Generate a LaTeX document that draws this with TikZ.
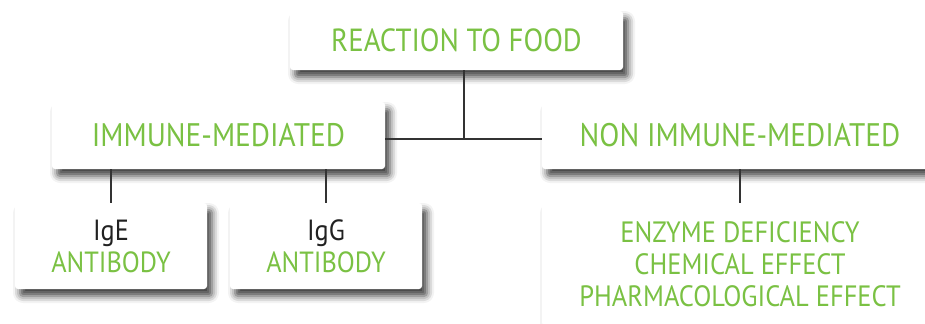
\documentclass[tikz,border=0pt]{standalone}
\usepackage{fontspec}
\setmainfont{PT Sans}[FakeStretch=0.9]
\usetikzlibrary{shadows.blur}
\definecolor{leaf}{RGB}{122,193,67}
\definecolor{wire}{gray}{0.2}
\definecolor{ink}{gray}{0.13}

\begin{document}
\begin{tikzpicture}[x=0.5pt,y=-0.5pt,
  box/.style={fill=white, rounded corners=1.5pt, inner sep=0pt, align=center, text=leaf,
    blur shadow={shadow xshift=2.5pt, shadow yshift=-3.5pt, shadow blur radius=3.5pt, shadow opacity=75}},
  link/.style={draw=wire, line width=0.6pt}]
\useasboundingbox (0,0) rectangle (925,323);
\clip (0,0) rectangle (925,323);
% top level
\node[box, minimum width=166.5pt, minimum height=29.5pt, font=\fontsize{16}{18}\selectfont] (food) at (456.5,40.5) {REACTION TO FOOD};
% second level
\node[box, minimum width=166.5pt, minimum height=33.5pt, font=\fontsize{16.3}{18}\selectfont] (imm) at (218.5,135.5) {IMMUNE-MEDIATED};
\node[box, minimum width=198pt, minimum height=33.5pt, font=\fontsize{16.3}{18}\selectfont] (non) at (740,135.5) {NON IMMUNE-MEDIATED};
% leaves
\foreach \name/\x/\ig in {ige/111/IgE, igg/326/IgG}{
\node[box, minimum width=96pt, minimum height=43pt, font=\fontsize{14.6}{16}\selectfont] (\name) at (\x,246) {{\color{ink}\ig}\\ANTIBODY};
}
\node[box, minimum width=198pt, minimum height=61.5pt, font=\fontsize{14.7}{16}\selectfont] (cause) at (740,264.5) {ENZYME DEFICIENCY\\CHEMICAL EFFECT\\PHARMACOLOGICAL EFFECT};
% connectors
\coordinate (hub) at (464,139);
\draw[link] (food.south -| hub) -- (hub);
\draw[link] (imm.east |- hub) -- (non.west |- hub);
\foreach \up/\down in {imm/ige, imm/igg, non/cause}{
\draw[link] (\up.south -| \down.north) -- (\down.north);
}
\end{tikzpicture}
\end{document}
